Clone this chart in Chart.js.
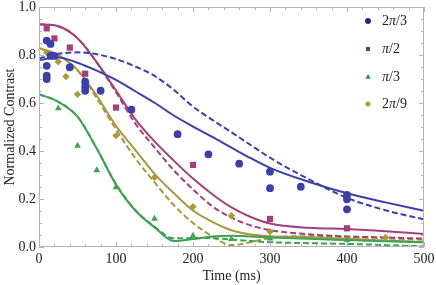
<!DOCTYPE html>
<html>
<head>
<meta charset="utf-8">
<script src="https://cdn.jsdelivr.net/npm/chart.js@4/dist/chart.umd.min.js"></script>
<style>
  html, body { margin: 0; padding: 0; background: #fff; }
</style>
</head>
<body>
<canvas id="myChart" width="436" height="285"></canvas>
<script>
// measured points (time in ms, normalized contrast)
const blueT = [10, 15, 15, 20, 10, 10, 10, 40, 60, 60, 60, 80, 120, 180, 220, 260, 300, 300, 340, 400, 400, 400];
const blueV = [0.86, 0.846, 0.796, 0.796, 0.755, 0.714, 0.70, 0.749, 0.689, 0.668, 0.651, 0.651, 0.572, 0.47, 0.386, 0.347, 0.314, 0.245, 0.251, 0.217, 0.199, 0.157];
const magentaT = [10, 20, 40, 60, 100, 200, 300, 400];
const magentaV = [0.911, 0.869, 0.831, 0.722, 0.581, 0.342, 0.117, 0.078];
const greenT = [25, 50, 75, 100, 150, 200, 250, 300, 400];
const greenV = [0.578, 0.422, 0.32, 0.249, 0.118, 0.047, 0.033, 0.035, 0.03];
const goldT = [10, 25, 35, 50, 100, 150, 200, 250, 300, 400, 450];
const goldV = [0.81, 0.772, 0.71, 0.636, 0.464, 0.29, 0.168, 0.13, 0.064, 0.033, 0.04];

// curves
const curveT = [0, 25, 50, 75, 100, 125, 150, 175, 200, 225, 250, 275, 300, 350, 400, 450, 500];
const blueFit = [0.779, 0.790, 0.768, 0.735, 0.696, 0.649, 0.601, 0.548, 0.502, 0.459, 0.414, 0.370, 0.330, 0.272, 0.224, 0.186, 0.151];
const blueModel = [0.786, 0.805, 0.811, 0.803, 0.783, 0.752, 0.713, 0.655, 0.585, 0.530, 0.478, 0.425, 0.372, 0.283, 0.205, 0.153, 0.115];
const magentaFit = [0.928, 0.920, 0.870, 0.770, 0.652, 0.533, 0.440, 0.360, 0.285, 0.220, 0.165, 0.125, 0.098, 0.080, 0.075, 0.066, 0.054];
const magentaModel = [0.928, 0.920, 0.870, 0.768, 0.645, 0.515, 0.415, 0.320, 0.240, 0.170, 0.122, 0.090, 0.070, 0.053, 0.044, 0.040, 0.035];
const greenFit = [0.637, 0.605, 0.543, 0.410, 0.260, 0.152, 0.082, 0.025, 0.033, 0.044, 0.047, 0.044, 0.040, 0.034, 0.029, 0.024, 0.020];
const greenModel = [0.637, 0.605, 0.543, 0.410, 0.262, 0.155, 0.085, 0.036, 0.037, 0.037, 0.031, 0.025, 0.020, 0.016, 0.013, 0.008, 0.002];
const goldFit = [0.828, 0.800, 0.738, 0.630, 0.505, 0.405, 0.305, 0.225, 0.152, 0.105, 0.070, 0.052, 0.045, 0.041, 0.034, 0.027, 0.020];
const goldModel = [0.828, 0.800, 0.735, 0.620, 0.490, 0.370, 0.270, 0.175, 0.100, 0.045, 0.008, 0.020, 0.038, 0.045, 0.042, 0.036, 0.030];

const legendLabels = [['2', 'π', '/3'], ['', 'π', '/2'], ['', 'π', '/3'], ['2', 'π', '/9']];

const cBlue = '#3d3fa8', cMag = '#a3407c', cGreen = '#3fa152', cGold = '#a8983e';
const serif = "'Liberation Serif', 'DejaVu Serif', serif";

const pts = (t, v) => t.map((x, i) => ({x: x, y: v[i]}));

function scatter(t, v, color, style, r) {
    return {
        type: 'scatter',
        data: pts(t, v),
        showLine: false,
        pointStyle: style,
        pointRadius: r,
        pointBackgroundColor: color,
        pointBorderWidth: 0,
        pointBorderColor: color,
    };
}
function curve(v, color, dashed) {
    return {
        type: 'line',
        data: pts(curveT, v),
        borderColor: color,
        borderWidth: 2,
        borderDash: dashed ? [6, 3] : [],
        pointRadius: 0,
        cubicInterpolationMode: 'monotone',
        fill: false,
    };
}

// frame with inward ticks on all four sides
const framePlugin = {
    id: 'frame',
    afterDatasetsDraw(chart) {
        const {ctx, chartArea: a, scales: {x, y}} = chart;
        ctx.save();
        ctx.strokeStyle = '#b4b4b4';
        ctx.lineWidth = 1;
        ctx.strokeRect(a.left + 0.5, a.top + 0.5, a.right - a.left - 1, a.bottom - a.top - 1);
        ctx.beginPath();
        for (let t = 0; t <= 500; t += 20) {
            const px = Math.round(x.getPixelForValue(t)) + 0.5;
            const len = t % 100 === 0 ? 5 : 3;
            ctx.moveTo(px, a.bottom); ctx.lineTo(px, a.bottom - len);
            ctx.moveTo(px, a.top); ctx.lineTo(px, a.top + len);
        }
        for (let k = 0; k <= 20; k++) {
            const py = Math.round(y.getPixelForValue(k * 0.05)) + 0.5;
            const len = k % 4 === 0 ? 5 : 3;
            ctx.moveTo(a.left, py); ctx.lineTo(a.left + len, py);
            ctx.moveTo(a.right, py); ctx.lineTo(a.right - len, py);
        }
        ctx.stroke();
        ctx.restore();
    }
};

const legendPlugin = {
    id: 'sideLegend',
    afterDraw(chart) {
        const ctx = chart.ctx;
        const styles = ['circle', 'rect', 'triangle', 'rectRot'];
        const colors = ['#23238f', '#8a2a78', '#2f9e35', '#a09a30'];
        const rows = [21, 49, 77, 104];
        ctx.save();
        rows.forEach((ry, i) => {
            ctx.fillStyle = colors[i];
            ctx.strokeStyle = colors[i];
            Chart.helpers.drawPoint(ctx, {pointStyle: styles[i], radius: 2.8, borderWidth: 0}, 368, ry);
            ctx.fill();
            let tx = 382;
            ctx.fillStyle = '#222';
            ctx.textBaseline = 'middle';
            legendLabels[i].forEach((part, j) => {
                ctx.font = (j === 1 ? 'italic ' : '') + '14px ' + serif;
                ctx.fillText(part, tx, ry);
                tx += ctx.measureText(part).width;
            });
        });
        ctx.restore();
    }
};

const ctx = document.getElementById('myChart');

new Chart(ctx, {
    data: {
        datasets: [
            scatter(blueT, blueV, cBlue, 'circle', 3.9),
            scatter(magentaT, magentaV, cMag, 'rect', 4.4),
            scatter(greenT, greenV, cGreen, 'triangle', 3.9),
            scatter(goldT, goldV, cGold, 'rectRot', 3.7),
            curve(blueFit, cBlue, false),
            curve(blueModel, cBlue, true),
            curve(magentaFit, cMag, false),
            curve(magentaModel, cMag, true),
            curve(greenFit, cGreen, false),
            curve(greenModel, cGreen, true),
            curve(goldFit, cGold, false),
            curve(goldModel, cGold, true),
        ]
    },
    options: {
        responsive: false,
        animation: false,
        devicePixelRatio: 1,
        layout: { padding: { top: 7, right: 12, left: 0, bottom: 0 } },
        scales: {
            x: {
                type: 'linear',
                min: 0,
                max: 500,
                grid: { display: false, drawTicks: false, tickLength: 0 },
                border: { display: false },
                ticks: { stepSize: 100, padding: 4, maxRotation: 0, color: '#222', font: { family: serif, size: 14 } },
                title: { display: true, text: 'Time (ms)', color: '#222', padding: { top: 0, bottom: 0 }, font: { family: serif, size: 14 } },
                afterFit(s) { s.height = 38; s.paddingLeft = 0; s.paddingRight = 0; }
            },
            y: {
                min: 0,
                max: 1,
                grid: { display: false, drawTicks: false, tickLength: 0 },
                border: { display: false },
                ticks: { stepSize: 0.2, padding: 3, color: '#222', font: { family: serif, size: 14 },
                    callback: v => v.toFixed(1) },
                title: { display: true, text: 'Normalized Contrast', color: '#222', padding: { top: 2, bottom: 0 }, font: { family: serif, size: 14 } },
                afterFit(s) { s.width = 39; s.paddingTop = 0; s.paddingBottom = 0; }
            }
        },
        plugins: {
            legend: { display: false },
            tooltip: { enabled: false },
        }
    },
    plugins: [framePlugin, legendPlugin]
});
</script>
</body>
</html>
